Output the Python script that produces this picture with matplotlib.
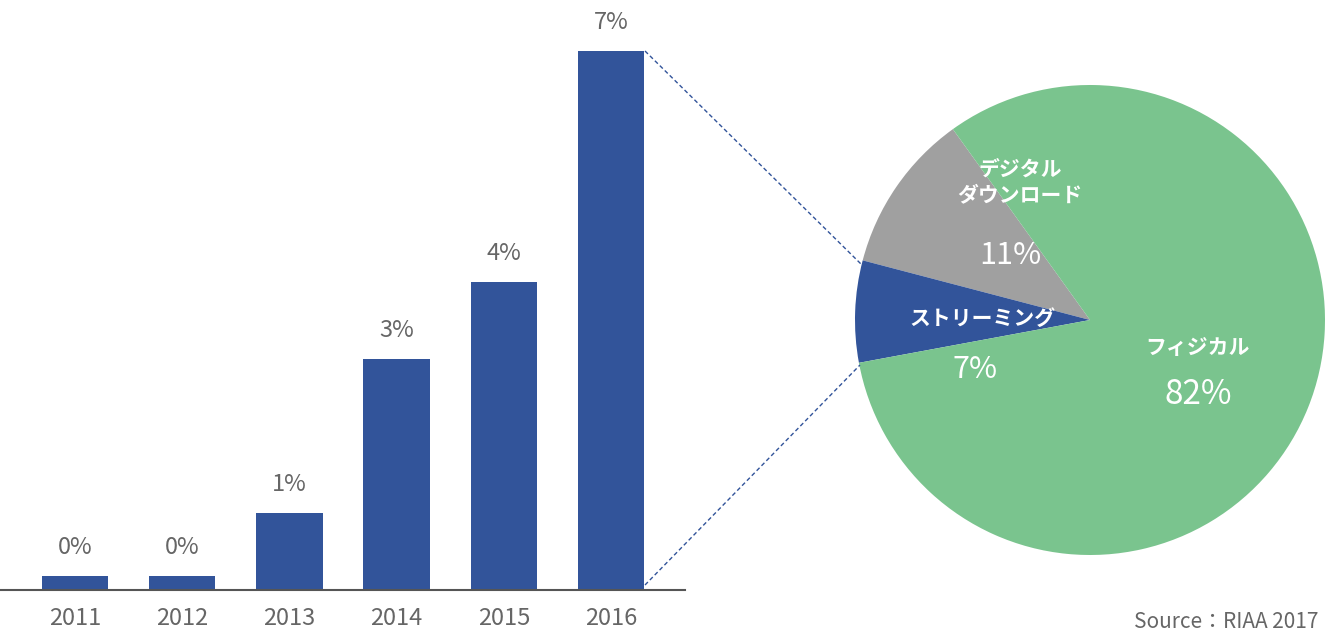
import matplotlib
matplotlib.use("Agg")
import matplotlib.pyplot as plt

plt.rcParams['font.family'] = ['Noto Sans CJK JP', 'DejaVu Sans']

years = ['2011', '2012', '2013', '2014', '2015', '2016']
shares = [0.18, 0.18, 1.0, 3.0, 4.0, 7.0]
bar_labels = ['0%', '0%', '1%', '3%', '4%', '7%']
pie_names = ['デジタル\nダウンロード', 'ストリーミング', 'フィジカル']
pie_values = [11, 7, 82]
pie_pct = ['11%', '7%', '82%']

W, H = 1330, 636
fig = plt.figure(figsize=(W/100, H/100), dpi=100)
blue, green, gray = '#32549A', '#7AC48E', '#A0A0A0'
tc = '#666666'

def fx(px): return px / W
def fy(py): return 1 - py / H

# bar axes
ax = fig.add_axes([0, fy(590), fx(685), (585-46)/H])
ax.bar(range(6), shares, width=0.62, color=blue)
ax.set_xlim(-0.70, 5.69)
ax.set_ylim(0, 7)
for s in ['top', 'right', 'left']:
    ax.spines[s].set_visible(False)
ax.spines['bottom'].set_color('#555555')
ax.spines['bottom'].set_linewidth(1.5)
ax.set_yticks([])
ax.set_xticks(range(6))
ax.set_xticklabels(years, fontsize=17, color=tc)
ax.tick_params(axis='x', length=0, pad=12)
for i, (v, l) in enumerate(zip(shares, bar_labels)):
    ax.annotate(l, (i, v), xytext=(0, 12), textcoords='offset points',
                ha='center', va='bottom', fontsize=17, color=tc)

# pie axes
r = 235
pax = fig.add_axes([fx(1090-r), fy(320+r), 2*r/W, 2*r/H])
pax.pie(pie_values, colors=[gray, blue, green], startangle=125.7,
        counterclock=True, radius=1)
pax.set_xlim(-1, 1); pax.set_ylim(-1, 1); pax.set_aspect('equal')
pax.axis('off')

# dashed connectors
for (x1, y1), (x2, y2) in [((645, 51), (862, 265)), ((645, 585), (860, 365))]:
    fig.add_artist(plt.Line2D([fx(x1), fx(x2)], [fy(y1), fy(y2)],
                              transform=fig.transFigure, color=blue,
                              linestyle=(0, (3, 2)), linewidth=1))

# pie labels
fig.text(fx(1020), fy(182), pie_names[0], ha='center', va='center',
         color='white', fontsize=15, fontweight='bold', linespacing=1.3)
fig.text(fx(1010), fy(255), pie_pct[0], ha='center', va='center', color='white', fontsize=22)
fig.text(fx(982), fy(318), pie_names[1], ha='center', va='center',
         color='white', fontsize=15, fontweight='bold')
fig.text(fx(975), fy(370), pie_pct[1], ha='center', va='center', color='white', fontsize=22)
fig.text(fx(1197), fy(348), pie_names[2], ha='center', va='center',
         color='white', fontsize=15, fontweight='bold')
fig.text(fx(1198), fy(395), pie_pct[2], ha='center', va='center', color='white', fontsize=24)

fig.text(fx(1318), fy(622), 'Source：RIAA 2017', ha='right', va='center', color=tc, fontsize=15)

fig.savefig('out.png', dpi=100)
